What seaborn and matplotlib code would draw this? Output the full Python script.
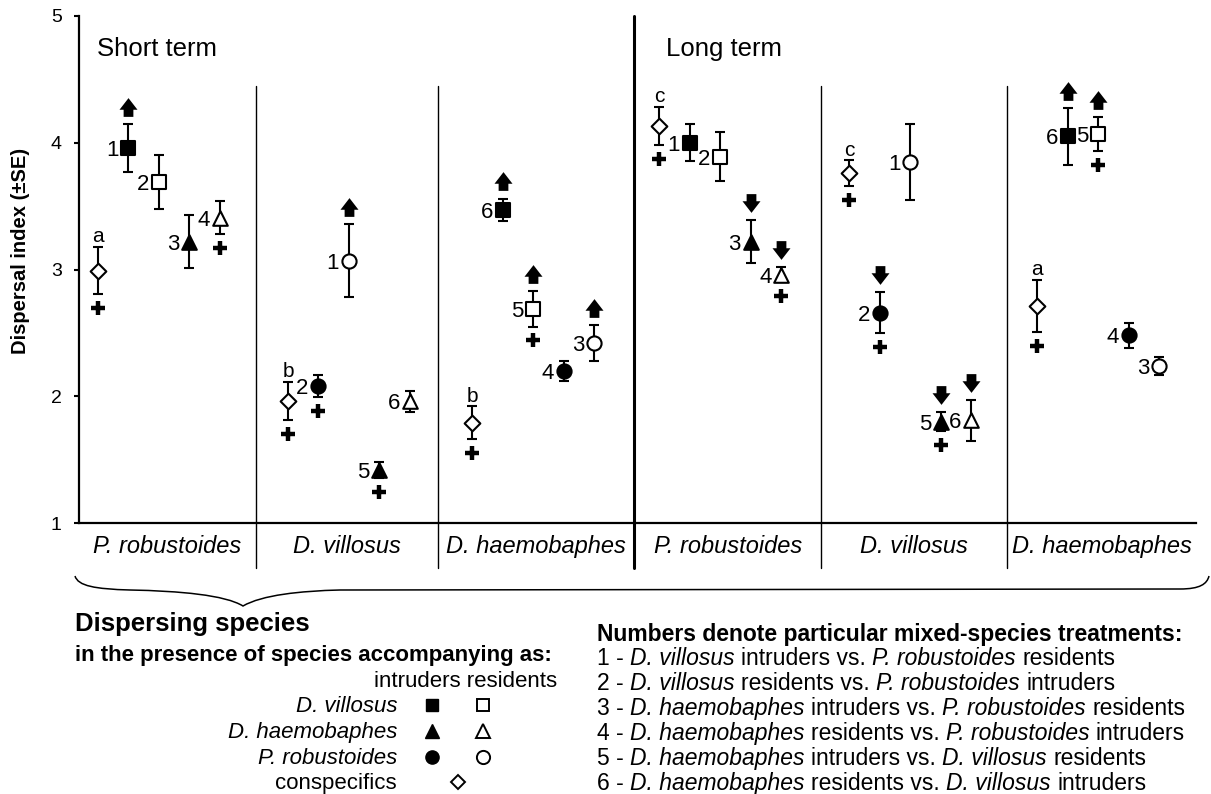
import numpy as np
import pandas as pd
import matplotlib
matplotlib.use("Agg")
import matplotlib.pyplot as plt
from matplotlib.path import Path
from matplotlib.patches import PathPatch
import seaborn as sns

sns.set_style("ticks")
plt.rcParams['font.family'] = ['Liberation Sans', 'DejaVu Sans']
plt.rcParams['text.color'] = 'black'

# ---------------- data ----------------
terms = ["Short term", "Long term"]
dispersing = ["P. robustoides", "D. villosus", "D. haemobaphes"]
panel_species = dispersing * 2

# accompanying-species treatment shown by each point (5 per panel)
kinds = [
    ["consp", "Dv_int", "Dv_res", "Dh_int", "Dh_res"],
    ["consp", "Pr_int", "Pr_res", "Dh_int", "Dh_res"],
    ["consp", "Dv_int", "Dv_res", "Pr_int", "Pr_res"],
    ["consp", "Dv_int", "Dv_res", "Dh_int", "Dh_res"],
    ["consp", "Pr_int", "Pr_res", "Dh_int", "Dh_res"],
    ["consp", "Dv_int", "Dv_res", "Pr_int", "Pr_res"],
]
means = [
    [2.99, 3.96, 3.69, 3.22, 3.41],
    [1.965, 2.08, 3.07, 1.42, 1.96],
    [1.79, 3.47, 2.69, 2.20, 2.42],
    [4.13, 4.00, 3.89, 3.22, 2.96],
    [3.76, 2.66, 3.85, 1.80, 1.81],
    [2.71, 4.05, 4.07, 2.48, 2.24],
]
ses = [
    [0.185, 0.19, 0.215, 0.21, 0.13],
    [0.15, 0.085, 0.29, 0.065, 0.085],
    [0.13, 0.09, 0.14, 0.08, 0.145],
    [0.15, 0.145, 0.195, 0.17, 0.06],
    [0.10, 0.16, 0.30, 0.075, 0.16],
    [0.205, 0.225, 0.135, 0.10, 0.07],
]
treat_num = [
    ["", "1", "2", "3", "4"],
    ["", "2", "1", "5", "6"],
    ["", "6", "5", "4", "3"],
    ["", "1", "2", "3", "4"],
    ["", "2", "1", "5", "6"],
    ["", "6", "5", "4", "3"],
]
group_letters = ["a", "b", "b", "c", "c", "a"]
arrows = [
    [None, "up", None, None, None],
    [None, None, "up", None, None],
    [None, "up", "up", None, "up"],
    [None, None, None, "down", "down"],
    [None, "down", None, "down", "down"],
    [None, "up", "up", None, None],
]
crosses = [
    [1, 0, 0, 0, 1],
    [1, 1, 0, 1, 0],
    [1, 0, 1, 0, 0],
    [1, 0, 0, 0, 1],
    [1, 1, 0, 1, 0],
    [1, 0, 1, 0, 0],
]
legend_species = ["D. villosus", "D. haemobaphes", "P. robustoides"]
treatments = [
    ("1", "D. villosus", "intruders", "P. robustoides", "residents"),
    ("2", "D. villosus", "residents", "P. robustoides", "intruders"),
    ("3", "D. haemobaphes", "intruders", "P. robustoides", "residents"),
    ("4", "D. haemobaphes", "residents", "P. robustoides", "intruders"),
    ("5", "D. haemobaphes", "intruders", "D. villosus", "residents"),
    ("6", "D. haemobaphes", "residents", "D. villosus", "intruders"),
]

# ---------------- layout ----------------
edges = [0, 5.80, 11.77, 18.20, 24.33, 30.43, 36.62]
pads = [0.62, 1.05, 1.12, 0.82, 0.92, 0.98]

rows = []
for k in range(6):
    for j in range(5):
        rows.append(dict(panel=k, kind=kinds[k][j], mean=means[k][j], se=ses[k][j],
                         num=treat_num[k][j], arrow=arrows[k][j], cross=crosses[k][j],
                         x=edges[k] + pads[k] + j))
df = pd.DataFrame(rows)

styles = {
    'consp': ('D', 'white', 8.0),
    'Dv_int': ('s', 'black', 9.5),
    'Dv_res': ('s', 'white', 9.5),
    'Dh_int': ('^', 'black', 10.5),
    'Dh_res': ('^', 'white', 10.5),
    'Pr_int': ('o', 'black', 10.2),
    'Pr_res': ('o', 'white', 10.2),
}

arrow_up = Path([(0, 0.5), (0.48, -0.12), (0.26, -0.12), (0.26, -0.5),
                 (-0.26, -0.5), (-0.26, -0.12), (-0.48, -0.12), (0, 0.5)],
                [Path.MOVETO] + [Path.LINETO] * 6 + [Path.CLOSEPOLY])
arrow_down = Path(arrow_up.vertices * np.array([1, -1]), arrow_up.codes)

W, H = 1211, 794
fig = plt.figure(figsize=(W / 100, H / 100), dpi=100)
ax = fig.add_axes([79 / W, 1 - 523 / H, (1196 - 79) / W, (523 - 16) / H])

# error bars
ax.errorbar(df['x'], df['mean'], yerr=df['se'], fmt='none', ecolor='black',
            elinewidth=1.5, capsize=3.5, capthick=1.5, zorder=2)

# markers
for kind, (mk, fc, ms) in styles.items():
    sub = df[df['kind'] == kind]
    sns.scatterplot(data=sub, x='x', y='mean', marker=mk, s=ms ** 2, color=fc,
                    edgecolor='black', linewidth=1.5, ax=ax, zorder=4, legend=False)

# arrows
up = df[df['arrow'] == 'up']
sns.scatterplot(x=up['x'], y=up['mean'] + up['se'] + 0.135, marker=arrow_up, s=13.5 ** 2,
                color='black', edgecolor='black', linewidth=0, ax=ax, zorder=4, legend=False)
dn = df[df['arrow'] == 'down']
sns.scatterplot(x=dn['x'], y=dn['mean'] + dn['se'] + 0.135, marker=arrow_down, s=13.5 ** 2,
                color='black', edgecolor='black', linewidth=0, ax=ax, zorder=4, legend=False)
# crosses
cr = df[df['cross'] == 1]
sns.scatterplot(x=cr['x'], y=cr['mean'] - cr['se'] - 0.11, marker='+', s=10.5 ** 2,
                color='black', linewidth=3.2, ax=ax, zorder=4, legend=False)

# treatment numbers
for _, r in df[df['num'] != ""].iterrows():
    ax.annotate(r['num'], (r['x'], r['mean']), xytext=(-7, 0), textcoords='offset points',
                ha='right', va='center_baseline', fontsize=16, color='black')
# letters over conspecific treatments
for _, r in df[df['kind'] == 'consp'].iterrows():
    ax.annotate(group_letters[int(r['panel'])], (r['x'], r['mean'] + r['se']), xytext=(0, 3.5),
                textcoords='offset points', ha='center', va='baseline', fontsize=15)

ax.set_xlim(edges[0], edges[-1])
ax.set_ylim(1, 5)
ax.set_xticks([])
ax.set_yticks([1, 2, 3, 4, 5])
ax.set_yticklabels(["1", "2", "3", "4", "5"])
ax.set_xlabel("")
ax.set_ylabel("")
ax.tick_params(axis='y', direction='out', length=3.5, width=1.5, labelsize=14, pad=9,
               colors='black')
for s in ['top', 'right']:
    ax.spines[s].set_visible(False)
for s in ['left', 'bottom']:
    ax.spines[s].set_color('black')
    ax.spines[s].set_linewidth(1.6)

xt = ax.get_xaxis_transform()
for k in range(1, 6):
    if k == 3:
        ax.plot([edges[k]] * 2, [-0.089, 1.0], transform=xt, color='black', lw=2.2,
                clip_on=False, zorder=1)
    else:
        ax.plot([edges[k]] * 2, [-0.089, 0.8625], transform=xt, color='black', lw=1.0,
                clip_on=False, zorder=1)
for k in range(6):
    ax.text((edges[k] + edges[k + 1]) / 2, -0.059, panel_species[k], transform=xt,
            ha='center', va='baseline', fontsize=17, style='italic')

ax.text(edges[0] + 0.59, 4.685, terms[0], ha='left', va='baseline', fontsize=18.5)
ax.text(edges[3] + 1.05, 4.685, terms[1], ha='left', va='baseline', fontsize=18.5)

fig.text(21 / W, 1 - 251 / H, "Dispersal index (±SE)", rotation=90, ha='center',
         va='center', fontsize=14.5, fontweight='bold')

# ---------------- overlay for brace and legends (pixel coords) ----------------
lax = fig.add_axes([0, 0, 1, 1], facecolor='none')
lax.set_xlim(0, W)
lax.set_ylim(H, 0)
lax.axis('off')

brace = Path([(75, 576), (78, 586), (95, 589), (130, 590),
              (180, 591), (225, 595), (243, 606),
              (262, 595), (300, 591), (340, 590),
              (1180, 589),
              (1200, 589), (1207, 584), (1209, 576)],
             [Path.MOVETO, Path.CURVE4, Path.CURVE4, Path.CURVE4,
              Path.CURVE4, Path.CURVE4, Path.CURVE4,
              Path.CURVE4, Path.CURVE4, Path.CURVE4,
              Path.LINETO,
              Path.CURVE4, Path.CURVE4, Path.CURVE4])
lax.add_patch(PathPatch(brace, fill=False, lw=1.1, edgecolor='black'))

lax.text(75, 631, "Dispersing species", fontsize=18.5, fontweight='bold', va='baseline')
lax.text(75, 661, "in the presence of species accompanying as:", fontsize=16,
         fontweight='bold', va='baseline')
lax.text(557, 687, "intruders residents", fontsize=16, ha='right', va='baseline')
row_y = [705, 731, 757]
leg_mk = ['s', '^', 'o']
leg_ms = [8.5, 9.5, 9.5]
for i, sp in enumerate(legend_species):
    lax.text(397, row_y[i] + 7, sp, fontsize=16, style='italic', ha='right', va='baseline')
    lax.plot([432], [row_y[i]], marker=leg_mk[i], ms=leg_ms[i], color='black', ls='none')
    lax.plot([483], [row_y[i]], marker=leg_mk[i], ms=leg_ms[i], mfc='white', mec='black',
             mew=1.4, ls='none')
lax.text(397, 789, "conspecifics", fontsize=16, ha='right', va='baseline')
lax.plot([458], [782], marker='D', ms=7, mfc='white', mec='black', mew=1.4, ls='none')

lax.text(597, 641, "Numbers denote particular mixed-species treatments:", fontsize=16.5,
         fontweight='bold', va='baseline')

renderer = fig.canvas.get_renderer()
fs = 16.5
space_px = 0.278 * fs * 100 / 72
for i, (n, s1, r1, s2, r2) in enumerate(treatments):
    pieces = [(f"{n} -", 'normal'), (s1, 'italic'), (f"{r1} vs.", 'normal'),
              (s2, 'italic'), (r2, 'normal')]
    x = 597
    yb = 665 + i * 25.0
    for txt, st in pieces:
        t = lax.text(x, yb, txt, fontsize=fs, style=st, va='baseline', ha='left')
        w = t.get_window_extent(renderer=renderer).width
        x += w + space_px

fig.savefig("out.png", dpi=100)
